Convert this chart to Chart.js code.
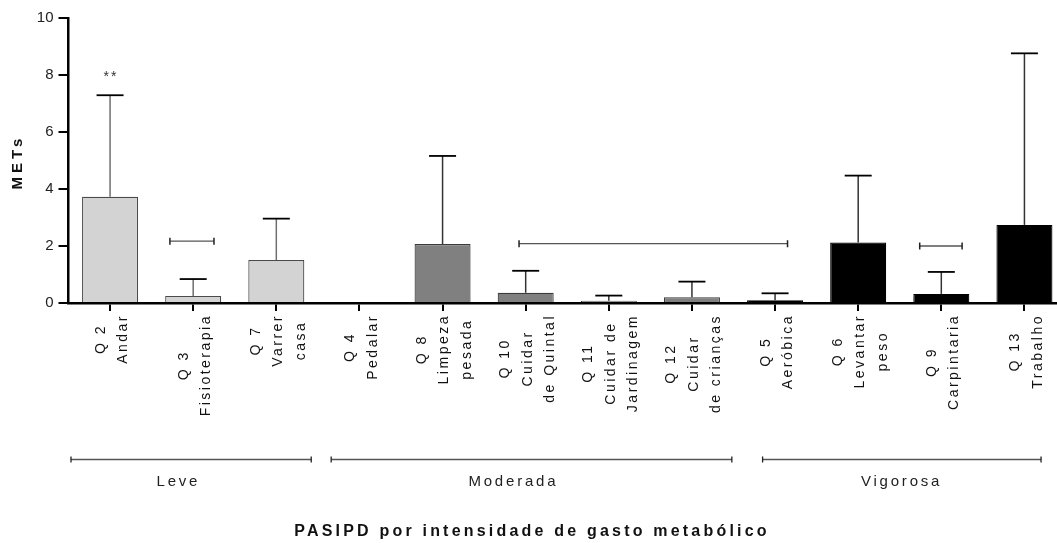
<!DOCTYPE html>
<html>
<head>
<meta charset="utf-8">
<script src="https://cdn.jsdelivr.net/npm/chart.js@4.4.1/dist/chart.umd.min.js"></script>
<style>
  html, body { margin: 0; padding: 0; background: #fff; overflow: hidden; }
  #wrap { width: 1066px; height: 543px; position: relative; }
</style>
</head>
<body>
<div id="wrap"><canvas id="c"></canvas></div>
<script>
// ---- data ----
const categories = ["Q2","Q3","Q7","Q4","Q8","Q10","Q11","Q12","Q5","Q6","Q9","Q13"];
const tickLabels = [
  ["Q 2","Andar"],
  ["Q 3","Fisioterapia"],
  ["Q 7","Varrer","casa"],
  ["Q 4","Pedalar"],
  ["Q 8","Limpeza","pesada"],
  ["Q 10","Cuidar","de Quintal"],
  ["Q 11","Cuidar de","Jardinagem"],
  ["Q 12","Cuidar","de crianças"],
  ["Q 5","Aeróbica"],
  ["Q 6","Levantar","peso"],
  ["Q 9","Carpintaria"],
  ["Q 13","Trabalho"]
];
const meanValues = [3.73, 0.25, 1.51, 0, 2.07, 0.36, 0.08, 0.2, 0.1, 2.12, 0.32, 2.74];
const sdValues   = [3.56, 0.59, 1.45, 0, 3.09, 0.77, 0.18, 0.55, 0.24, 2.35, 0.77, 6.02];
const intensity  = ["Leve","Leve","Leve","Moderada","Moderada","Moderada","Moderada","Moderada","Vigorosa","Vigorosa","Vigorosa","Vigorosa"];
const yTicks = [0, 2, 4, 6, 8, 10];
// groups: label, start index, end index, label center index (fractional category positions)
const groupNames  = ["Leve","Moderada","Vigorosa"];
const groupStart  = [-0.47, 2.66, 7.85];
const groupEnd    = [2.42, 7.48, 11.2];
const groupCenter = [0.81, 4.84, 9.51];
// significance brackets: from index, to index, value
const bracketFrom  = [0.72, 4.92, 9.74];
const bracketTo    = [1.25, 8.15, 10.25];
const bracketValue = [2.17, 2.08, 2.0];
const starIndex = 0, starValue = 8.0, starText = "**";

const fillByGroup   = { Leve: "#d3d3d3", Moderada: "#808080", Vigorosa: "#000000" };
const borderByGroup = { Leve: "#4a4a4a", Moderada: "#3a3a3a", Vigorosa: "#000000" };

const FONT = '"Liberation Sans", Arial, sans-serif';

const overlay = {
  id: 'overlay',
  afterDatasetsDraw(chart) {
    const ctx = chart.ctx;
    const xs = chart.scales.x, ys = chart.scales.y;
    const meta = chart.getDatasetMeta(0);
    ctx.save();
    // error bars
    meta.data.forEach((bar, i) => {
      if (!sdValues[i]) return;
      const x = bar.x;
      const y0 = ys.getPixelForValue(meanValues[i]);
      const y1 = ys.getPixelForValue(meanValues[i] + sdValues[i]);
      ctx.strokeStyle = intensity[i] === "Leve" ? "#6e6e6e" : "#333";
      ctx.lineWidth = 1.5;
      ctx.beginPath(); ctx.moveTo(x, y0); ctx.lineTo(x, y1); ctx.stroke();
      ctx.strokeStyle = "#000";
      ctx.lineWidth = 1.8;
      ctx.beginPath(); ctx.moveTo(x - 13.5, y1); ctx.lineTo(x + 13.5, y1); ctx.stroke();
    });
    // brackets
    for (let k = 0; k < bracketFrom.length; k++) {
      const xa = xs.getPixelForValue(bracketFrom[k]);
      const xb = xs.getPixelForValue(bracketTo[k]);
      const y = ys.getPixelForValue(bracketValue[k]);
      ctx.strokeStyle = "#555";
      ctx.lineWidth = 1.3;
      ctx.beginPath(); ctx.moveTo(xa, y); ctx.lineTo(xb, y); ctx.stroke();
      ctx.strokeStyle = "#222";
      ctx.lineWidth = 1.5;
      ctx.beginPath();
      ctx.moveTo(xa, y - 3.5); ctx.lineTo(xa, y + 3.5);
      ctx.moveTo(xb, y - 3.5); ctx.lineTo(xb, y + 3.5);
      ctx.stroke();
    }
    // stars
    ctx.fillStyle = "#333";
    ctx.font = '14px ' + FONT;
    ctx.letterSpacing = "2px";
    ctx.textAlign = "center";
    ctx.textBaseline = "middle";
    ctx.fillText(starText, xs.getPixelForValue(starIndex) + 1, ys.getPixelForValue(starValue) + 2);
    ctx.restore();
  },
  afterDraw(chart) {
    const ctx = chart.ctx;
    const xs = chart.scales.x;
    const bottom = chart.chartArea.bottom;
    ctx.save();
    // rotated category labels
    ctx.fillStyle = "#111";
    ctx.font = '14px ' + FONT;
    ctx.letterSpacing = "2.5px";
    ctx.textBaseline = "middle";
    ctx.textAlign = "center";
    const lineGap = 22.5;
    tickLabels.forEach((lines, i) => {
      const cx = xs.getPixelForValue(i) + 2;
      let maxW = 0;
      lines.forEach(l => { maxW = Math.max(maxW, ctx.measureText(l).width); });
      const cy = bottom + 11 + maxW / 2;
      lines.forEach((l, j) => {
        const lx = cx + (j - (lines.length - 1) / 2) * lineGap;
        ctx.save();
        ctx.translate(lx, cy);
        ctx.rotate(-Math.PI / 2);
        ctx.fillText(l, 0, 0);
        ctx.restore();
      });
    });
    // group brackets and labels
    const gy = 459.5;
    for (let g = 0; g < groupNames.length; g++) {
      const xa = xs.getPixelForValue(groupStart[g]);
      const xb = xs.getPixelForValue(groupEnd[g]);
      ctx.strokeStyle = "#555";
      ctx.lineWidth = 1.3;
      ctx.beginPath(); ctx.moveTo(xa, gy); ctx.lineTo(xb, gy); ctx.stroke();
      ctx.strokeStyle = "#222";
      ctx.lineWidth = 1.3;
      ctx.beginPath();
      ctx.moveTo(xa, gy - 3); ctx.lineTo(xa, gy + 3);
      ctx.moveTo(xb, gy - 3); ctx.lineTo(xb, gy + 3);
      ctx.stroke();
      ctx.fillStyle = "#222";
      ctx.font = '15px ' + FONT;
      ctx.letterSpacing = "2.8px";
      ctx.textAlign = "center";
      ctx.textBaseline = "middle";
      ctx.fillText(groupNames[g], xs.getPixelForValue(groupCenter[g]) + 1, 482);
    }
    // x title
    ctx.fillStyle = "#111";
    ctx.font = 'bold 16px ' + FONT;
    ctx.letterSpacing = "3.2px";
    ctx.textAlign = "center";
    ctx.textBaseline = "alphabetic";
    ctx.fillText("PASIPD por intensidade de gasto metabólico", 532, 536);
    // y title
    ctx.save();
    ctx.translate(18, 162);
    ctx.rotate(-Math.PI / 2);
    ctx.font = 'bold 15px ' + FONT;
    ctx.letterSpacing = "4px";
    ctx.textBaseline = "middle";
    ctx.fillText("METs", 0, 0);
    ctx.restore();
    ctx.restore();
  }
};

new Chart(document.getElementById('c'), {
  type: 'bar',
  data: {
    labels: categories,
    datasets: [{
      data: meanValues,
      backgroundColor: intensity.map(g => fillByGroup[g]),
      borderColor: intensity.map(g => borderByGroup[g]),
      borderWidth: 1.2,
      borderSkipped: 'start',
      barPercentage: 0.674,
      categoryPercentage: 1.0
    }]
  },
  options: {
    responsive: true,
    maintainAspectRatio: false,
    animation: false,
    devicePixelRatio: 1,
    layout: { padding: { top: 18, left: 0, right: 0, bottom: 0 } },
    plugins: { legend: { display: false }, tooltip: { enabled: false } },
    scales: {
      x: {
        offset: true,
        grid: { display: true, offset: false, drawOnChartArea: false, drawTicks: true, tickLength: 8, color: '#000', lineWidth: 2 },
        border: { display: true, color: '#000', width: 2.5 },
        ticks: { display: false },
        afterFit(s) { s.height = 240; }
      },
      y: {
        min: 0, max: 10,
        afterBuildTicks(s) { s.ticks = yTicks.map(v => ({ value: v })); },
        grid: { display: true, drawOnChartArea: false, drawTicks: true, tickLength: 10, color: '#000', lineWidth: 2 },
        border: { display: true, color: '#000', width: 2.5 },
        ticks: { color: '#222', font: { family: FONT, size: 15 }, padding: 5 },
        afterFit(s) { s.width = 68.5; }
      }
    }
  },
  plugins: [overlay]
});
</script>
</body>
</html>
